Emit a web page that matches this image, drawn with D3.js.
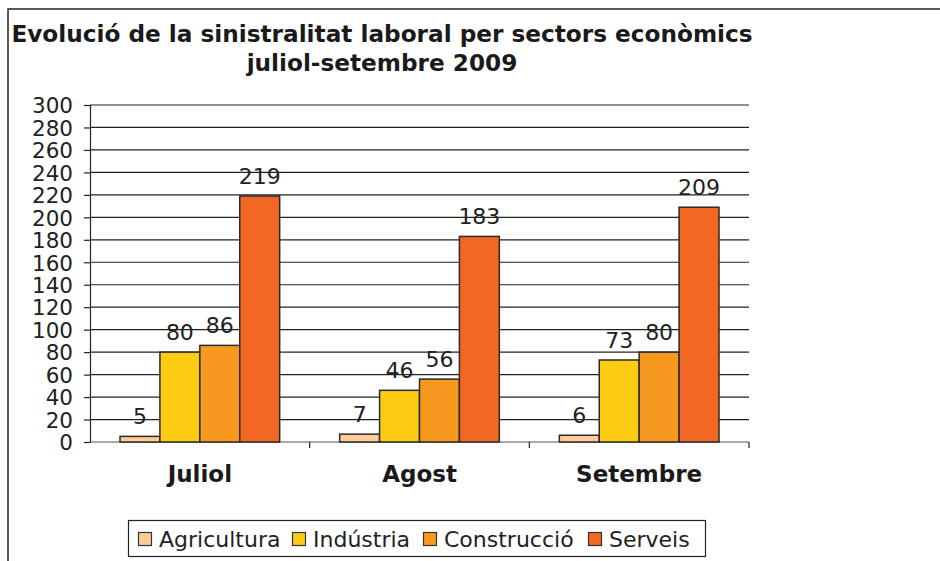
<!DOCTYPE html>
<html>
<head>
<meta charset="utf-8">
<script src="https://cdn.jsdelivr.net/npm/d3@7"></script>
<style>
  body { margin: 0; background: #fff; }
  svg { display: block; font-family: "DejaVu Sans", Verdana, sans-serif; }
</style>
</head>
<body>
<svg id="chart" width="940" height="561"></svg>
<script>
var months = ["Juliol", "Agost", "Setembre"];
var sectors = ["Agricultura", "Indústria", "Construcció", "Serveis"];
var agricultura = [5, 7, 6];
var industria = [80, 46, 73];
var construccio = [86, 56, 80];
var serveis = [219, 183, 209];
var yTicks = [0, 20, 40, 60, 80, 100, 120, 140, 160, 180, 200, 220, 240, 260, 280, 300];
var titleLines = ["Evolució de la sinistralitat laboral per sectors econòmics", "juliol-setembre 2009"];

var colors = ["#ffcc99", "#fccc12", "#f7991e", "#f26722"];
var seriesValues = [agricultura, industria, construccio, serveis];

var svg = d3.select("#chart");
var plotLeft = 90, plotRight = 749, plotTop = 105, plotBottom = 442;

// frame
svg.append("path")
    .attr("d", "M8,561 L8,9 L940,9")
    .attr("fill", "none")
    .attr("stroke", "#222")
    .attr("stroke-width", 1.5);

// title
svg.selectAll(".title")
    .data(titleLines)
    .enter()
    .append("text")
    .attr("class", "title")
    .attr("x", 382)
    .attr("y", (d, i) => 42 + i * 29)
    .attr("text-anchor", "middle")
    .attr("font-size", "23.2px")
    .attr("font-weight", "bold")
    .attr("fill", "#1a1a1a")
    .text((d) => d);

var x0 = d3.scaleBand().domain(months).range([plotLeft, plotRight]);
var x1 = d3.scaleBand().domain(sectors).range([30, x0.bandwidth() - 30]);
var y = d3.scaleLinear().domain([0, 300]).range([plotBottom, plotTop]);

// grid
svg.append("g")
    .selectAll("line")
    .data(yTicks.slice(1))
    .enter()
    .append("line")
    .attr("x1", plotLeft)
    .attr("x2", plotRight)
    .attr("y1", (d) => y(d))
    .attr("y2", (d) => y(d))
    .attr("stroke", "#222")
    .attr("stroke-width", 1.2);

// y axis
var yAxis = svg.append("g")
    .attr("transform", "translate(" + plotLeft + ",0)")
    .call(d3.axisLeft(y).tickValues(yTicks).tickSize(6).tickPadding(11));
yAxis.select(".domain").attr("stroke", "#222").attr("stroke-width", 1.2);
yAxis.selectAll(".tick line").attr("stroke", "#222").attr("stroke-width", 1.2);
yAxis.selectAll("text")
    .attr("font-size", "21.5px")
    .attr("font-family", "DejaVu Sans")
    .attr("fill", "#222")
    .attr("dy", "0.36em");

// x axis baseline and ticks
svg.append("line")
    .attr("x1", plotLeft).attr("x2", plotRight)
    .attr("y1", plotBottom).attr("y2", plotBottom)
    .attr("stroke", "#555").attr("stroke-width", 1.2);
svg.append("g")
    .selectAll("line")
    .data(months)
    .enter()
    .append("line")
    .attr("x1", (d) => x0(d) + x0.bandwidth())
    .attr("x2", (d) => x0(d) + x0.bandwidth())
    .attr("y1", plotBottom)
    .attr("y2", plotBottom + 6)
    .attr("stroke", "#222")
    .attr("stroke-width", 1.2);

svg.append("g")
    .selectAll("text")
    .data(months)
    .enter()
    .append("text")
    .attr("x", (d) => x0(d) + x0.bandwidth() / 2)
    .attr("y", 482)
    .attr("text-anchor", "middle")
    .attr("font-size", "23px")
    .attr("font-weight", "bold")
    .attr("fill", "#1a1a1a")
    .text((d) => d);

// bars
var bars = [];
months.forEach(function (m, i) {
    sectors.forEach(function (s, j) {
        bars.push({ month: m, sector: s, value: seriesValues[j][i], color: colors[j] });
    });
});

var g = svg.append("g");
g.selectAll("rect")
    .data(bars)
    .enter()
    .append("rect")
    .attr("x", (d) => x0(d.month) + x1(d.sector))
    .attr("y", (d) => y(d.value))
    .attr("width", x1.bandwidth())
    .attr("height", (d) => plotBottom - y(d.value))
    .attr("fill", (d) => d.color)
    .attr("stroke", "#2a2a2a")
    .attr("stroke-width", 1.5);

g.selectAll("text")
    .data(bars)
    .enter()
    .append("text")
    .attr("x", (d) => x0(d.month) + x1(d.sector) + x1.bandwidth() / 2)
    .attr("y", (d) => y(d.value) - 12)
    .attr("text-anchor", "middle")
    .attr("font-size", "22px")
    .attr("fill", "#222")
    .text((d) => d.value);

// legend
var legend = svg.append("g");
legend.append("rect")
    .attr("x", 128.5).attr("y", 520.5)
    .attr("width", 577).attr("height", 36)
    .attr("fill", "#fff")
    .attr("stroke", "#222")
    .attr("stroke-width", 1.2);

var legX = [138, 292, 423, 588];
var items = legend.selectAll(".item")
    .data(sectors)
    .enter()
    .append("g")
    .attr("transform", (d, i) => "translate(" + legX[i] + ",0)");
items.append("rect")
    .attr("x", 0.5).attr("y", 532.5)
    .attr("width", 13).attr("height", 13)
    .attr("fill", (d, i) => colors[i])
    .attr("stroke", "#333")
    .attr("stroke-width", 1.2);
items.append("text")
    .attr("x", 21)
    .attr("y", 547)
    .attr("font-size", "22px")
    .attr("fill", "#222")
    .text((d) => d);
</script>
</body>
</html>
